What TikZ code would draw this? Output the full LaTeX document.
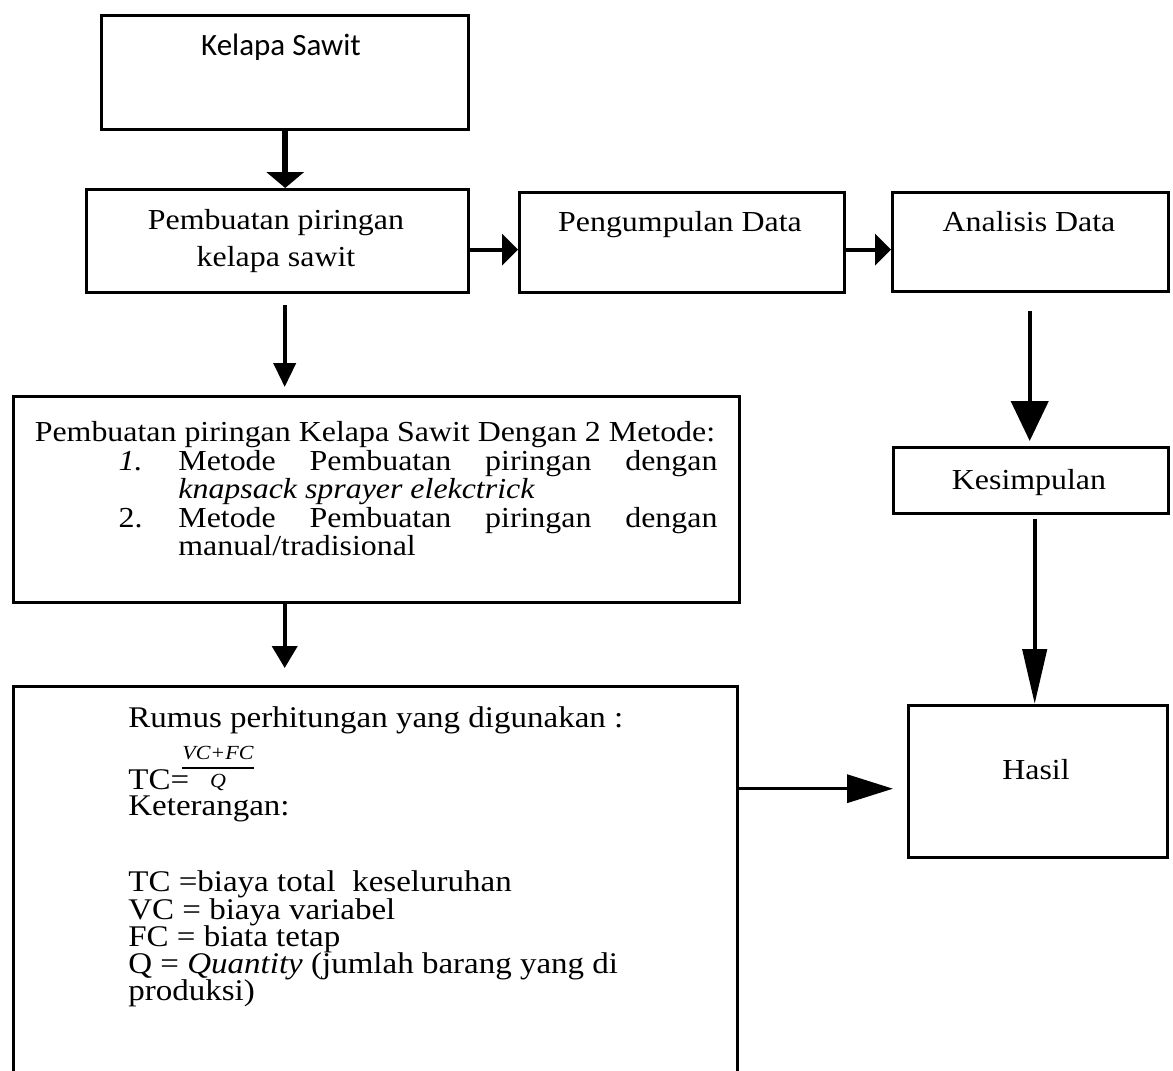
\documentclass[tikz,border=0pt]{standalone}
\usepackage{fontspec}
\setmainfont{Liberation Serif}[FakeStretch=1.1]
\newfontfamily\calibri{Carlito}
\usetikzlibrary{arrows.meta,calc}
\begin{document}
\begin{tikzpicture}[x=0.5pt,y=-0.5pt,
  box/.style={draw, line width=1.7pt, inner sep=0pt, anchor=north west},
  txt/.style={inner sep=0pt, font=\fontsize{14.5pt}{17pt}\selectfont},
  rtxt/.style={inner sep=0pt, anchor=base west, font=\fontsize{15pt}{17pt}\selectfont},
  small/.style={inner sep=0pt, font=\fontsize{10pt}{12pt}\selectfont},
  conn/.style={line width=2.2pt},
]
\useasboundingbox (0,0) rectangle (1173,1071);
\clip (0,0) rectangle (1173,1071);

% boxes
\node[box, minimum width=183.5pt, minimum height=57pt] (ks) at (100,14) {};
\node[box, minimum width=191pt, minimum height=51.5pt] (pp) at (85,188) {};
\node[box, minimum width=162.5pt, minimum height=50pt] (pd) at (518,191) {};
\node[box, minimum width=138pt, minimum height=49.5pt] (ad) at (891,191) {};
\node[box, minimum width=363pt, minimum height=103pt] (mt) at (12,395) {};
\node[box, minimum width=362pt, minimum height=220pt] (rm) at (12,685) {};
\node[box, minimum width=137.5pt, minimum height=33pt] (kp) at (892,446) {};
\node[box, minimum width=129.5pt, minimum height=76pt] (hs) at (907,704) {};

% texts
\node[inner sep=0pt, anchor=base, font=\calibri\fontsize{15.5pt}{18pt}\selectfont] (tks) at (281,55) {Kelapa Sawit};
\node[txt, anchor=base] (tpp1) at (276,229) {Pembuatan piringan};
\node[txt, anchor=base] (tpp2) at (276,266) {kelapa sawit};
\node[txt, anchor=base] (tpd) at (680,231) {Pengumpulan Data};
\node[txt, anchor=base] (tad) at (1029,231) {Analisis Data};
\node[txt, anchor=base] (tkp) at (1029,489) {Kesimpulan};
\node[txt, anchor=base] (ths) at (1036,779) {Hasil};

\node[txt, anchor=base] (m0) at (375,441) {Pembuatan piringan Kelapa Sawit Dengan 2 Metode:};
\node[txt, anchor=base east] (m1n) at (143,470) {\textit{1.}};
\node[txt, anchor=base west] (m1) at (178,470) {\makebox[269.5pt][s]{Metode Pembuatan piringan dengan}};
\node[txt, anchor=base west] (m1b) at (178,498) {\textit{knapsack sprayer elekctrick}};
\node[txt, anchor=base east] (m2n) at (143,527) {2.};
\node[txt, anchor=base west] (m2) at (178,527) {\makebox[269.5pt][s]{Metode Pembuatan piringan dengan}};
\node[txt, anchor=base west] (m2b) at (178,555) {manual/tradisional};

\node[rtxt] (r1) at (128,727) {Rumus perhitungan yang digunakan :};
\node[rtxt, text depth=0pt] (r2) at (128,789) {TC=};
\node[small, anchor=base] (fnum) at (218,759) {\textit{VC+FC}};
\node[small, anchor=base, text depth=0pt] (fden) at (218,787) {\textit{Q}};
\draw[line width=1.4pt] (fnum.south west |- 0,768) -- (fnum.south east |- 0,768);
\node[rtxt, text height=10.5pt] (r3) at (128,815) {Keterangan:};
\node[rtxt] (r4) at (128,891) {TC =biaya total\ \ keseluruhan};
\node[rtxt] (r5) at (128,919) {VC = biaya variabel};
\node[rtxt] (r6) at (128,946) {FC = biata tetap};
\node[rtxt] (r7) at (128,973) {Q = \textit{Quantity} (jumlah barang yang di};
\node[rtxt] (r8) at (128,1000) {produksi)};

% connectors
\draw[conn, line width=2.8pt, -{Triangle[length=8pt,width=18.5pt]}] (ks.south) -- (ks.south |- pp.north);
\draw[conn, -{Triangle[length=8pt,width=15.5pt]}] ([yshift=-4.25pt]pp.east) -- ([yshift=-4.25pt]pp.east -| pd.west);
\draw[conn, -{Triangle[length=8pt,width=15.5pt]}] ([yshift=-3.5pt]pd.east) -- ([yshift=-3.5pt]pd.east -| ad.west);
\draw[conn, line width=2pt, shorten >=4pt, -{Triangle[length=12pt,width=11pt]}] ([xshift=3.5pt,yshift=-5.5pt]pp.south) -- ([xshift=3.5pt]pp.south |- mt.north);
\draw[conn, line width=2pt, shorten >=8.5pt, -{Triangle[length=11pt,width=12.5pt]}] ([xshift=-46pt]mt.south) -- ([xshift=-46pt]mt.south |- rm.north);
\draw[conn, shorten >=2.5pt, -{Triangle[length=20pt,width=18.5pt]}] ([xshift=-0.5pt,yshift=-9pt]ad.south) -- ([xshift=-0.5pt]ad.south |- kp.north);
\draw[conn, -{Triangle[length=27.5pt,width=12pt]}] ([xshift=1.75pt,yshift=-2pt]kp.south) -- ([xshift=1.75pt]kp.south |- hs.north);
\draw[conn, line width=1.7pt, shorten >=7pt, -{Triangle[length=23pt,width=14pt]}] ([yshift=-3.5pt]hs.west -| rm.east) -- ([yshift=-3.5pt]hs.west);
\end{tikzpicture}
\end{document}
